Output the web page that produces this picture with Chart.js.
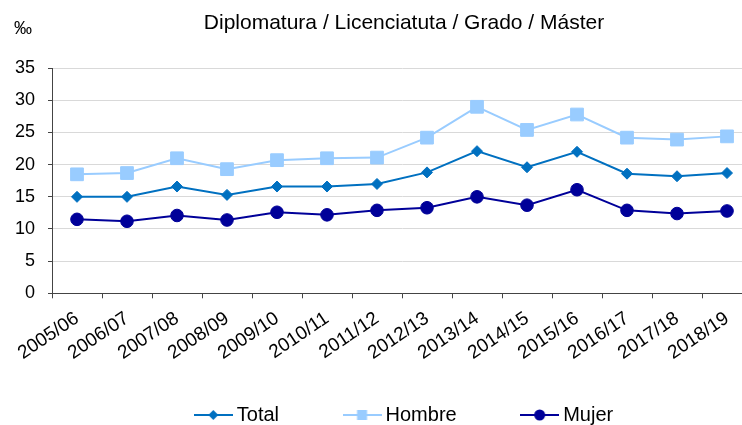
<!DOCTYPE html>
<html>
<head>
<meta charset="utf-8">
<script src="https://cdn.jsdelivr.net/npm/chart.js@4/dist/chart.umd.min.js"></script>
<style>
  html, body { margin: 0; padding: 0; background: #fff; overflow: hidden; width: 742px; height: 425px; }
  canvas { display: block; }
</style>
</head>
<body>
<canvas id="c" width="808" height="435"></canvas>
<script>
// ---- data ----
const categories = ["2005/06","2006/07","2007/08","2008/09","2009/10","2010/11","2011/12","2012/13","2013/14","2014/15","2015/16","2016/17","2017/18","2018/19"];
const totalValues  = [15.0, 15.0, 16.6, 15.3, 16.6, 16.6, 17.0, 18.8, 22.1, 19.6, 22.0, 18.6, 18.2, 18.7];
const hombreValues = [18.5, 18.7, 21.0, 19.3, 20.7, 21.0, 21.1, 24.2, 29.0, 25.4, 27.8, 24.2, 23.9, 24.4];
const mujerValues  = [11.5, 11.2, 12.1, 11.4, 12.6, 12.2, 12.9, 13.3, 15.0, 13.7, 16.1, 12.9, 12.4, 12.8];
const seriesNames = ["Total", "Hombre", "Mujer"];
const titleText = "Diplomatura / Licenciatuta / Grado / Máster";
const unitText = "‰";

const FONT = "'Liberation Sans', Arial, sans-serif";
const colTotal = '#0070C0', colHombre = '#99CCFF', colMujer = '#000099';
const axisCol = '#444444';

function makeIcon(color, style) {
  const c = document.createElement('canvas');
  c.width = 39; c.height = 14;
  const g = c.getContext('2d');
  g.strokeStyle = color; g.fillStyle = color; g.lineWidth = 2;
  g.beginPath(); g.moveTo(0, 7); g.lineTo(39, 7); g.stroke();
  g.beginPath();
  if (style === 'diamond') {
    g.moveTo(19.5, 2); g.lineTo(24.5, 7); g.lineTo(19.5, 12); g.lineTo(14.5, 7); g.closePath();
  } else if (style === 'square') {
    g.rect(14.5, 2, 10, 10);
  } else {
    g.arc(19.5, 7, 5.5, 0, Math.PI * 2);
  }
  g.fill();
  return c;
}
const icons = [makeIcon(colTotal, 'diamond'), makeIcon(colHombre, 'square'), makeIcon(colMujer, 'circle')];

const unitPlugin = {
  id: 'unitLabel',
  afterLayout(chart) {
    if (chart.legend) { chart.legend.left += 2.5; chart.legend.right += 2.5; }
  },
  afterDraw(chart) {
    const ctx = chart.ctx;
    ctx.save();
    ctx.font = '18px ' + FONT;
    ctx.fillStyle = '#000';
    ctx.textAlign = 'center';
    ctx.textBaseline = 'middle';
    ctx.fillText(unitText, 23, 29);
    ctx.restore();
  }
};

new Chart(document.getElementById('c'), {
  type: 'line',
  data: {
    labels: categories,
    datasets: [
      { label: seriesNames[0], data: totalValues, borderColor: colTotal, backgroundColor: colTotal,
        borderWidth: 2, pointStyle: 'rectRot', pointRadius: 5.5, pointBorderWidth: 1, tension: 0 },
      { label: seriesNames[1], data: hombreValues, borderColor: colHombre, backgroundColor: colHombre,
        borderWidth: 2, pointStyle: 'rect', pointRadius: 9, pointBorderWidth: 1, tension: 0 },
      { label: seriesNames[2], data: mujerValues, borderColor: colMujer, backgroundColor: colMujer,
        borderWidth: 2, pointStyle: 'circle', pointRadius: 6.3, pointBorderWidth: 1, tension: 0 }
    ]
  },
  options: {
    responsive: false,
    animation: false,
    devicePixelRatio: 1,
    layout: { padding: 0 },
    plugins: {
      title: {
        display: true, text: titleText, color: '#000',
        font: { family: FONT, size: 21, weight: 'normal' },
        padding: { top: 11, bottom: 32 }
      },
      legend: {
        display: true, position: 'bottom',
        labels: {
          usePointStyle: true, pointStyleWidth: 27, padding: 69.5,
          color: '#000', font: { family: FONT, size: 20 },
          generateLabels(chart) {
            const items = Chart.defaults.plugins.legend.labels.generateLabels(chart);
            items.forEach((it, i) => { it.pointStyle = icons[i]; it.lineWidth = 0; });
            return items;
          }
        }
      },
      tooltip: { enabled: false }
    },
    scales: {
      x: {
        type: 'category', offset: true,
        grid: { display: true, drawOnChartArea: false, drawTicks: true, offset: true, tickLength: 5, tickColor: axisCol, tickWidth: 1 },
        border: { display: true, color: axisCol, width: 1 },
        ticks: { color: '#000', font: { family: FONT, size: 19 }, autoSkip: false, minRotation: 34, maxRotation: 34, padding: 9 },
        afterFit(s) { s.height = 42.2; s._computeLabelArea = () => undefined; }
      },
      y: {
        position: 'left', min: 0, max: 35,
        grid: {
          color: (ctx) => (ctx.tick && ctx.tick.value === 0) ? axisCol : '#D9D9D9',
          lineWidth: 1, tickLength: 4, tickColor: axisCol
        },
        border: { display: true, color: axisCol, width: 1 },
        ticks: { stepSize: 5, color: '#000', font: { family: FONT, size: 18 }, padding: 13 },
        afterFit(s) { s.width = 52; }
      },
      yR: {
        position: 'right', display: true,
        grid: { display: false }, border: { display: false }, ticks: { display: false },
        afterFit(s) { s.width = 56; }
      }
    }
  },
  plugins: [unitPlugin]
});
</script>
</body>
</html>
